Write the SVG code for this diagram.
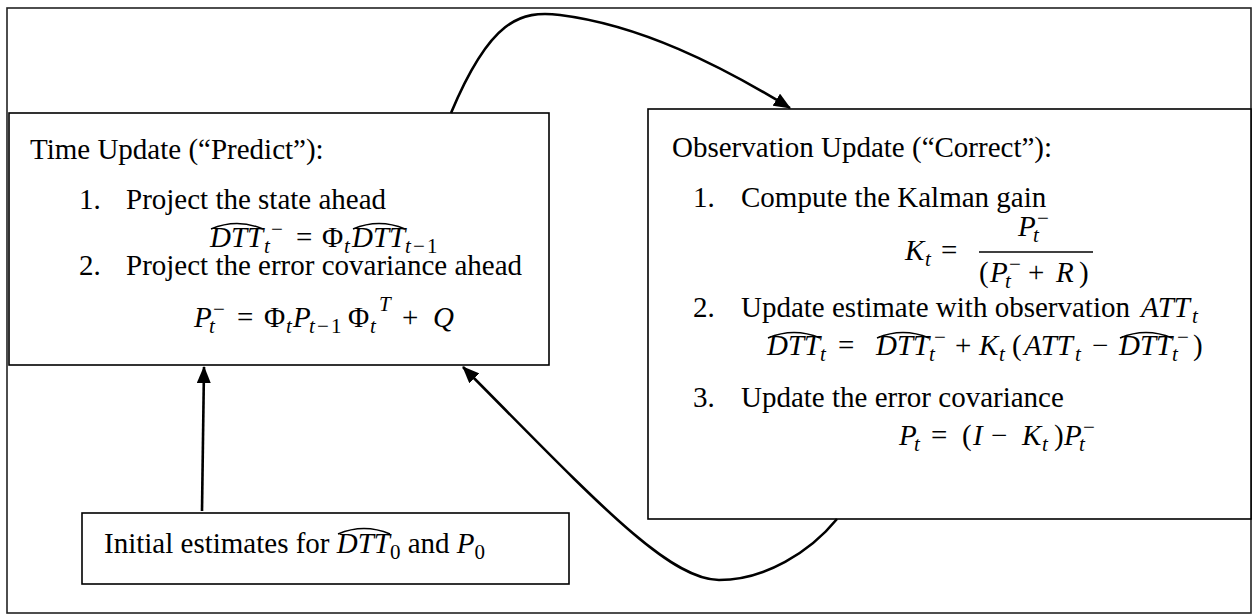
<svg xmlns="http://www.w3.org/2000/svg" width="1253" height="615" viewBox="0 0 1253 615">
<style>
.box{fill:#fff;stroke:#000;stroke-width:1.6}
.frame{fill:#fff;stroke:#222;stroke-width:1.6}
.tx{font-family:"Liberation Serif","Times New Roman",serif;font-size:29px;fill:#000}
.eq{font-family:"Liberation Serif","Times New Roman",serif;font-size:29px;fill:#000}
.mi{font-style:italic;font-size:29px}
.mu{font-style:normal;font-size:29px}
.si{font-style:italic;font-size:21px}
.su{font-style:normal;font-size:21px}
.hat{fill:none;stroke:#000;stroke-width:1.4}
.bar{stroke:#000;stroke-width:1.6}
.conn{fill:none;stroke:#000;stroke-width:2.6;marker-end:url(#ah)}
</style>
<defs>
<marker id="ah" markerUnits="userSpaceOnUse" markerWidth="18" markerHeight="14" refX="16" refY="7" orient="auto">
<path d="M0,0 L17,7 L0,14 Z" fill="#000"/>
</marker>
</defs>
<rect class="frame" x="7" y="8" width="1244" height="605"/>

<g id="time-update">
<rect class="box" x="9" y="113" width="540" height="252"/>
<text class="tx" x="30" y="159">Time Update (“Predict”):</text>
<text class="tx" x="79" y="209">1.<tspan x="126">Project the state ahead</tspan></text>
<text class="eq"><tspan class="mi" x="210" y="247">DTT</tspan><tspan class="si" x="264" y="253">t</tspan><tspan class="su" x="271" y="236">−</tspan><tspan class="mu" x="296" y="247">=</tspan><tspan class="mu" x="322" y="247">Φ</tspan><tspan class="si" x="344" y="253">t</tspan><tspan class="mi" x="352" y="247">DTT</tspan><tspan class="si" x="405" y="253">t</tspan><tspan class="su" x="413" y="253">−</tspan><tspan class="su" x="427" y="253">1</tspan></text>
<path class="hat" d="M211,229 Q237,218 263,229"/>
<path class="hat" d="M353,229 Q379,218 405,229"/>
<text class="tx" x="79" y="275">2.<tspan x="126">Project the error covariance ahead</tspan></text>
<text class="eq"><tspan class="mi" x="194" y="327">P</tspan><tspan class="si" x="209" y="333">t</tspan><tspan class="su" x="213" y="316">−</tspan><tspan class="mu" x="237" y="327">=</tspan><tspan class="mu" x="264" y="327">Φ</tspan><tspan class="si" x="286" y="333">t</tspan><tspan class="mi" x="293" y="327">P</tspan><tspan class="si" x="309" y="333">t</tspan><tspan class="su" x="317" y="333">−</tspan><tspan class="su" x="331" y="333">1</tspan><tspan class="mu" x="348" y="327">Φ</tspan><tspan class="si" x="370" y="333">t</tspan><tspan class="si" x="379" y="311">T</tspan><tspan class="mu" x="402" y="327">+</tspan><tspan class="mi" x="433" y="327">Q</tspan></text>
</g>

<g id="observation-update">
<rect class="box" x="648" y="109" width="603" height="410"/>
<text class="tx" x="672" y="157">Observation Update (“Correct”):</text>
<text class="tx" x="693" y="207">1.<tspan x="741">Compute the Kalman gain</tspan></text>
<text class="eq"><tspan class="mi" x="905" y="260">K</tspan><tspan class="si" x="925" y="266">t</tspan><tspan class="mu" x="941" y="260">=</tspan><tspan class="mi" x="1018" y="236">P</tspan><tspan class="si" x="1033" y="242">t</tspan><tspan class="su" x="1037" y="225">−</tspan><tspan class="mu" x="979" y="282">(</tspan><tspan class="mi" x="990" y="282">P</tspan><tspan class="si" x="1005" y="288">t</tspan><tspan class="su" x="1009" y="271">−</tspan><tspan class="mu" x="1028" y="282">+</tspan><tspan class="mi" x="1056" y="282">R</tspan><tspan class="mu" x="1079" y="282">)</tspan></text>
<line class="bar" x1="979" y1="252" x2="1093" y2="252"/>
<text class="tx" x="693" y="317">2.<tspan x="741">Update estimate with observation </tspan><tspan class="mi" x="1141">ATT</tspan><tspan class="si" x="1192" y="323">t</tspan></text>
<text class="eq"><tspan class="mi" x="767" y="355">DTT</tspan><tspan class="si" x="820" y="361">t</tspan><tspan class="mu" x="838" y="355">=</tspan><tspan class="mi" x="876" y="355">DTT</tspan><tspan class="si" x="929" y="361">t</tspan><tspan class="su" x="934" y="344">−</tspan><tspan class="mu" x="955" y="355">+</tspan><tspan class="mi" x="979" y="355">K</tspan><tspan class="si" x="999" y="361">t</tspan><tspan class="mu" x="1012" y="355">(</tspan><tspan class="mi" x="1024" y="355">ATT</tspan><tspan class="si" x="1075" y="361">t</tspan><tspan class="mu" x="1092" y="355">−</tspan><tspan class="mi" x="1119" y="355">DTT</tspan><tspan class="si" x="1172" y="361">t</tspan><tspan class="su" x="1177" y="344">−</tspan><tspan class="mu" x="1193" y="355">)</tspan></text>
<path class="hat" d="M768,338 Q794,327 820,338"/>
<path class="hat" d="M877,338 Q903,327 929,338"/>
<path class="hat" d="M1120,338 Q1146,327 1172,338"/>
<text class="tx" x="693" y="407">3.<tspan x="741">Update the error covariance</tspan></text>
<text class="eq"><tspan class="mi" x="899" y="445">P</tspan><tspan class="si" x="914" y="451">t</tspan><tspan class="mu" x="931" y="445">=</tspan><tspan class="mu" x="962" y="445">(</tspan><tspan class="mi" x="973" y="445">I</tspan><tspan class="mu" x="991" y="445">−</tspan><tspan class="mi" x="1022" y="445">K</tspan><tspan class="si" x="1042" y="451">t</tspan><tspan class="mu" x="1054" y="445">)</tspan><tspan class="mi" x="1064" y="445">P</tspan><tspan class="si" x="1079" y="451">t</tspan><tspan class="su" x="1083" y="434">−</tspan></text>
</g>

<g id="initial-estimates">
<rect class="box" x="82" y="513" width="487" height="71"/>
<text class="tx" x="104" y="553">Initial estimates for <tspan class="mi">DTT</tspan><tspan class="su" dy="6">0</tspan><tspan dy="-6"> and </tspan><tspan class="mi">P</tspan><tspan class="su" dy="6">0</tspan></text>
<path class="hat" d="M338,534 Q364,523 390,534"/>
</g>

<g id="connectors">
<path class="conn" d="M451,113 C490,20 520,10 560,15 C640,25 720,65 790,108"/>
<path class="conn" d="M837,519 C810,552 765,580 719,580 C668,580 592,497 463,367"/>
<path class="conn" d="M202,511 L204,367"/>
</g>
</svg>
